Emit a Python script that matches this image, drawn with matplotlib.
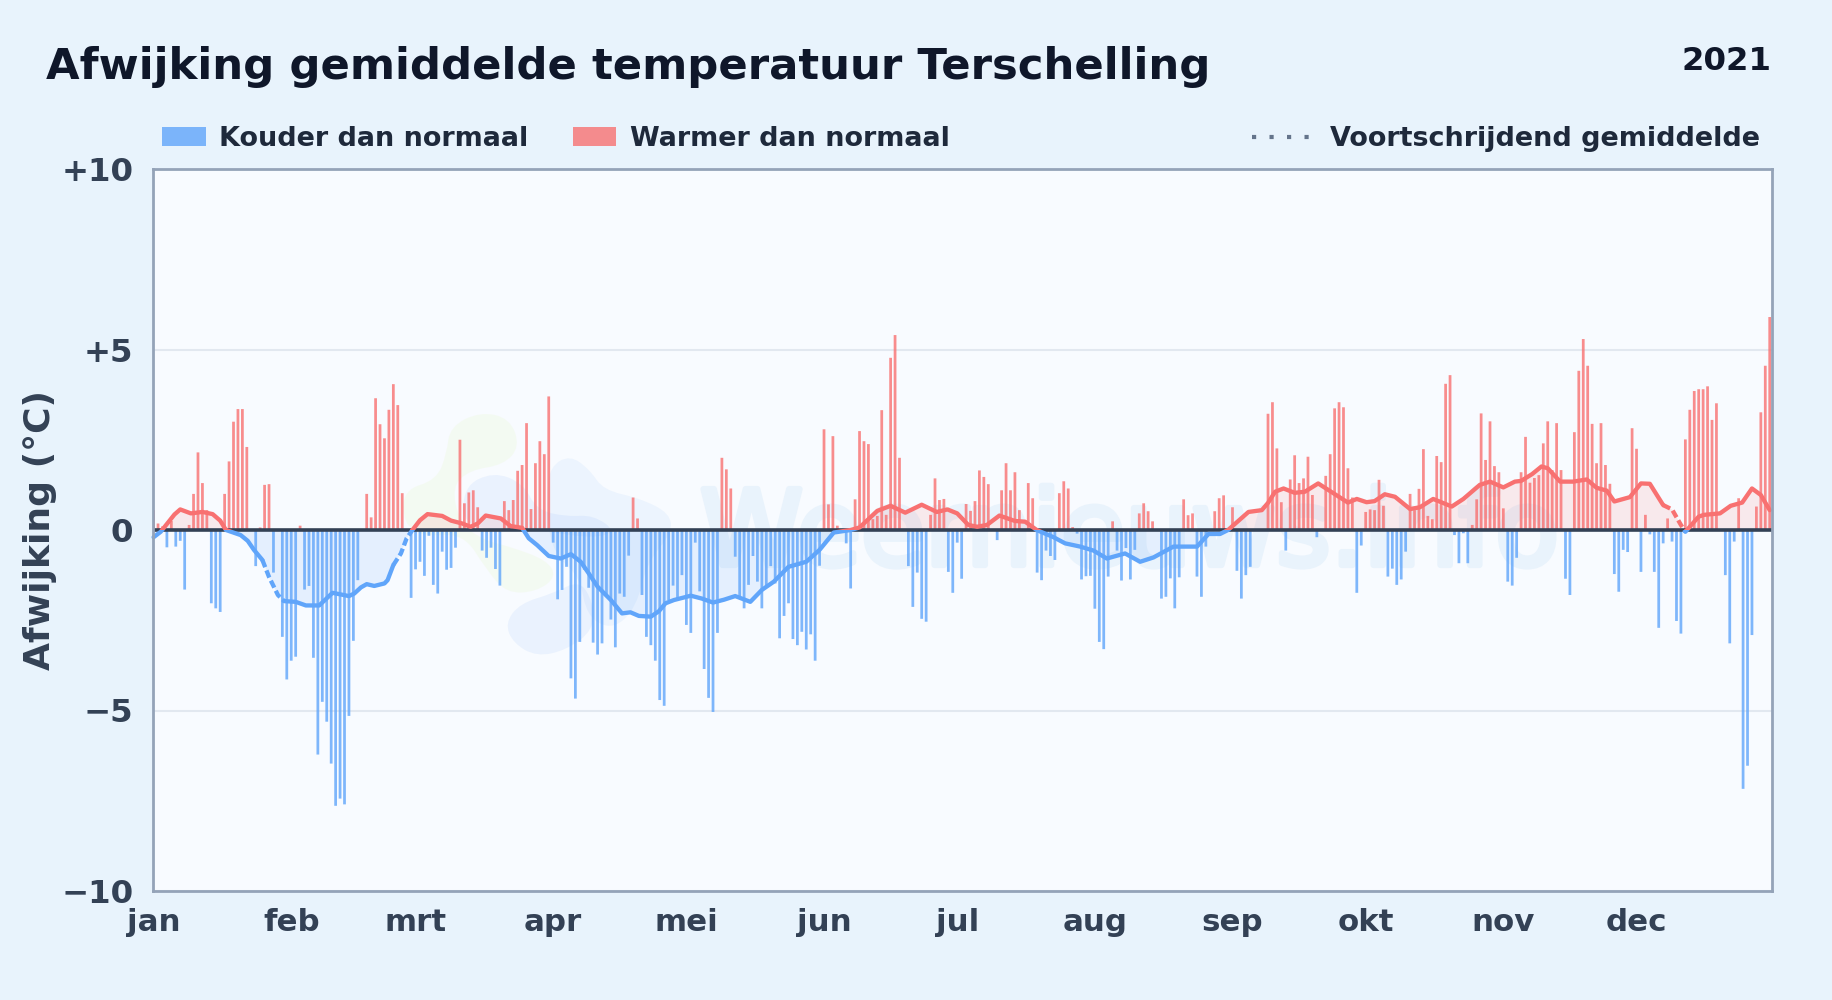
import numpy as np
import matplotlib
matplotlib.use("Agg")
import matplotlib.pyplot as plt
import matplotlib.patheffects as pe
from matplotlib.patches import Rectangle, PathPatch
from matplotlib.path import Path
from matplotlib.lines import Line2D
from matplotlib.transforms import Affine2D

W, H = 1832, 1000
TITLE = "Afwijking gemiddelde temperatuur Terschelling"
YEAR = "2021"
YLABEL = "Afwijking (°C)"
LEGEND_COLD = "Kouder dan normaal"
LEGEND_WARM = "Warmer dan normaal"
LEGEND_AVG = "Voortschrijdend gemiddelde"
WATERMARK = "Weernieuws.info"

month_labels = ["jan", "feb", "mrt", "apr", "mei", "jun", "jul", "aug", "sep", "okt", "nov", "dec"]
month_starts = [0, 31, 59, 90, 120, 151, 181, 212, 243, 273, 304, 334]
y_ticks = [-10, -5, 0, 5, 10]
y_tick_labels = ["\u221210", "\u22125", "0", "+5", "+10"]

anomaly = [
    .55, .18, .1, -.48, .25, -.46, -.3, -1.65, .14, 1.0,
    2.15, 1.3, .55, -2.03, -2.17, -2.27, 1.0, 1.9, 3.0, 3.35,
    3.35, 2.3, 0, -1.0, .07, 1.25, 1.27, -1.18, 0, -2.96,
    -4.14, -3.62, -3.51, .12, -1.65, -1.55, -3.54, -6.22, -4.76, -5.31,
    -6.47, -7.64, -7.44, -7.6, -5.15, -3.07, -1.39, 0, 1.0, .35,
    3.65, 2.93, 2.54, 3.33, 4.04, 3.46, 1.02, 0, -1.88, -1.09,
    -.88, -1.27, -.16, -1.52, -1.76, -.6, -1.1, -1.05, -.49, 2.5,
    .74, 1.04, 1.1, .63, -.57, -.77, -.49, -1.08, -1.54, .8,
    .55, .83, 1.64, 1.8, 2.96, .58, 1.85, 2.46, 2.1, 3.7,
    -.35, -1.92, -1.66, -1.02, -4.11, -4.67, -3.1, -1.1, -1.6, -3.12,
    -3.45, -3.14, -1.85, -2.48, -3.25, -1.76, -1.85, -.71, .9, .32,
    -1.8, -2.96, -3.19, -3.62, -4.71, -4.87, -1.94, -1.54, -1.94, -1.25,
    -2.63, -2.85, -.35, -1.7, -3.85, -4.65, -5.04, -2.85, 2.0, 1.68,
    1.15, -.74, -1.85, -2.17, -1.52, -.72, -1.43, -2.17, -1.57, -1.0,
    -1.48, -3.0, -2.38, -2.03, -3.02, -3.19, -2.82, -3.31, -2.89, -3.62,
    -.99, 2.79, .71, 2.6, .12, 0, -.37, -1.62, .85, 2.74,
    2.46, 2.38, .3, .39, 3.32, .42, 4.77, 5.4, 2.0, 0,
    -1.0, -2.13, -1.18, -2.46, -2.54, .42, 1.43, .83, .86, -1.16,
    -1.74, -.35, -1.35, .72, .53, .8, 1.65, 1.47, 1.27, 0,
    -.28, 1.1, 1.85, 1.1, 1.6, .55, 0, 1.3, .88, -1.18,
    -1.39, -.57, -.72, -.83, 1.02, 1.35, 1.15, .08, -.1, -1.37,
    -1.28, -1.27, -2.18, -3.1, -3.3, -1.29, .24, -.57, -1.4, -.5,
    -1.37, -.55, .46, .74, .52, .24, 0, -1.9, -1.85, -1.34,
    -2.17, -1.31, .85, .41, .46, -1.29, -1.85, -.46, 0, .52,
    .88, .96, 0, .63, -1.13, -1.9, -1.25, -1.02, 0, 0,
    0, 3.22, 3.54, 2.26, .77, -.57, 1.4, 2.07, 1.3, 1.43,
    2.03, .97, -.2, 0, 1.5, 2.1, 3.37, 3.54, 3.4, 1.71,
    .9, -1.74, -.43, .5, .57, .55, 1.39, .67, -1.29, -1.07,
    -1.52, -1.37, -.6, 1.0, .55, 1.14, 2.24, .39, .3, 2.05,
    1.88, 4.05, 4.29, -.14, -.92, -.09, -.92, .14, .85, 3.23,
    1.94, 3.01, 1.77, 1.6, .6, -1.43, -1.54, -.77, 1.6, 2.58,
    1.31, 1.44, 1.52, 2.4, 3.01, 1.66, 2.96, 1.66, -1.35, -1.8,
    2.71, 4.41, 5.29, 4.55, 2.94, 1.85, 2.96, 1.8, 1.28, -1.22,
    -1.71, -.55, -.61, 2.82, 2.25, -1.16, .42, -.12, -1.16, -2.71,
    -.37, .32, -.32, -2.52, -2.87, 2.51, 3.33, 3.85, 3.9, 3.9,
    3.98, 3.05, 3.51, 0, -1.25, -3.14, -.32, .88, -7.17, -6.53,
    -2.91, .65, 3.26, 4.55, 5.9,
]

avg_days = [0, 1.6, 4, 4.7, 6, 8.4, 11, 13.3, 15, 16.3, 19.6, 21.2, 22.6, 24.5, 26, 28, 29.4, 32, 34.3, 37.3, 40.3, 42, 44, 45.2, 46.7, 48,
            49.7, 52, 52.7, 54, 55.7, 57, 58.3, 60, 61.7, 65, 67, 69.5, 71.4, 73, 74.8, 78.2, 80.4, 83, 84.5, 86.4, 89, 91.7, 94, 96.2,
            98, 100, 103, 105.5, 107.4, 109.3, 112, 113.8, 115.3, 117.2, 121, 123.5, 126, 128.5, 131, 134.4, 137, 139.7, 143, 147, 150, 153.2, 157, 159,
            161, 163, 166, 169.3, 173, 176.4, 178.8, 181, 183.5, 185.5, 187.7, 190.5, 194, 196.3, 198.9, 202.7, 205.3, 208.7, 211.7, 214.7, 218.8,
            222.2, 225.2, 229.7, 235, 237.6, 240.2, 242, 246.6, 249.6, 251, 252.6, 254.5, 257, 259.3, 262.3, 265.7, 269, 271, 273.2, 275, 277.3,
            279.6, 283, 285.2, 288.2, 292.4, 295, 298.7, 301, 304, 306.6, 308, 310.5, 312.6, 314, 316.8, 319.7, 322.8, 325, 327.3, 329, 332.5, 335,
            337, 340, 342, 344, 345, 348, 349.2, 352.8, 355.2, 357.8, 360, 362, 364]
avg_vals = [-.2, -.05, .32, .43, .57, .46, .5, .44, .26, 0, -.14, -.3, -.55, -.83, -1.3, -1.8, -1.97, -1.99, -2.09, -2.09, -1.74, -1.78, -1.83, -1.76, -1.59, -1.5,
            -1.55, -1.48, -1.39, -.97, -.65, -.23, 0, .27, .44, .39, .26, .18, .09, .18, .4, .32, .11, .06, -.23, -.42, -.72, -.79, -.67, -.88,
            -1.2, -1.57, -1.94, -2.31, -2.28, -2.38, -2.4, -2.25, -2.03, -1.94, -1.82, -1.9, -2.01, -1.93, -1.83, -1.99, -1.66, -1.43, -1.02, -.88, -.55, -.07, 0, .07,
            .3, .53, .67, .48, .7, .5, .57, .46, .14, .09, .14, .4, .25, .23, 0, -.2, -.37, -.46, -.57, -.79, -.65,
            -.88, -.76, -.46, -.46, -.11, -.11, 0, .5, .55, .75, 1.06, 1.15, 1.03, 1.06, 1.29, 1.02, .76, .86, .77, .8, .99,
            .92, .58, .63, .86, .65, .86, 1.25, 1.34, 1.18, 1.34, 1.36, 1.55, 1.76, 1.71, 1.34, 1.34, 1.4, 1.17, 1.09, .79, .91, 1.29,
            1.28, .69, .57, .14, -.05, .37, .42, .46, .67, .76, 1.15, .97, .55]
dashed_spans = [(24.5, 29.4), (54, 58.3), (340, 345)]

BG = "#E8F3FC"
AX_BG = "#F8FBFF"
BLUE = "#60A5FA"
RED = "#F87171"
SPINE = "#94A3B8"
TICK = "#334155"
LEGEND_TXT = "#1E293B"
TITLE_TXT = "#0F172A"
WM_COLOR = "#E9F3FC"

plt.rcParams["font.family"] = ["DejaVu Sans"]
fig = plt.figure(figsize=(W / 100, H / 100), dpi=100, facecolor=BG)
L, R, T, B = 152.7, 1771.5, 169.0, 891.0
ax = fig.add_axes([L / W, 1 - B / H, (R - L) / W, (B - T) / H], facecolor=AX_BG)


def fx(x):
    return x / W


def fy(y):
    return 1 - y / H


# Faint watermark logo (pixel coordinates of the figure)
to_disp = Affine2D().scale(1, -1).translate(0, H)


def blob(points, color, alpha):
    pts = [(380 + x / 3, 390 + y / 3) for x, y in points]
    n = len(pts)
    mid = [((pts[i][0] + pts[(i + 1) % n][0]) / 2, (pts[i][1] + pts[(i + 1) % n][1]) / 2) for i in range(n)]
    verts, codes = [mid[-1]], [Path.MOVETO]
    for i in range(n):
        verts += [pts[i], mid[i]]
        codes += [Path.CURVE3, Path.CURVE3]
    ax.add_patch(PathPatch(Path(verts, codes), facecolor=color, edgecolor="none", alpha=alpha,
                           transform=to_disp, zorder=0.5))


blob([(210, 110), (300, 65), (390, 85), (420, 170), (370, 225), (270, 240), (215, 290), (240, 400), (310, 450), (390, 470),
      (500, 510), (530, 560), (470, 605), (380, 610), (320, 540), (250, 430), (130, 440), (70, 400), (70, 300), (170, 270), (200, 190)],
     "#D9F99D", 0.13)
blob([(510, 230), (570, 195), (630, 240), (670, 300), (780, 325), (870, 370), (875, 430), (800, 520), (770, 650), (700, 720),
      (620, 680), (600, 560), (530, 500), (505, 420), (500, 320)], "#60A5FA", 0.08)
blob([(250, 290), (340, 245), (430, 280), (470, 360), (560, 380), (640, 375), (710, 425), (640, 445), (500, 425), (420, 415), (250, 415)],
     "#3B82F6", 0.07)
blob([(375, 700), (420, 640), (520, 610), (600, 570), (640, 640), (640, 720), (560, 780), (470, 800), (400, 760)], "#3B82F6", 0.07)

ax.text(fx(700), fy(565), WATERMARK, transform=fig.transFigure, fontsize=75, fontweight="normal", color=WM_COLOR,
        zorder=0.6, path_effects=[pe.withStroke(linewidth=4.5, foreground=WM_COLOR)])

days = np.arange(len(anomaly))
values = np.array(anomaly)
bar_colors = [BLUE if v < 0 else RED for v in values]
ax.bar(days, values, width=0.62, color=bar_colors, alpha=0.8, linewidth=0, zorder=2, snap=False)

ax.set_xlim(-0.2, 364.4)
ax.set_ylim(-10, 10)
ax.yaxis.grid(True, color="#E2E8F0", linewidth=1.5, zorder=1)
ax.xaxis.grid(False)
ax.set_axisbelow(True)

x_avg = np.array(avg_days)
y_avg = np.array(avg_vals)
ax.fill_between(x_avg, y_avg, 0, where=y_avg >= 0, interpolate=True, color=RED, alpha=0.13, linewidth=0, zorder=2.5)
ax.fill_between(x_avg, y_avg, 0, where=y_avg <= 0, interpolate=True, color=BLUE, alpha=0.13, linewidth=0, zorder=2.5)
ax.axhline(0, color=TICK, linewidth=2.6, zorder=3)

in_dash = np.zeros(len(x_avg), dtype=bool)
for a, b in dashed_spans:
    in_dash |= (x_avg >= a) & (x_avg <= b)
ends = [s[0] for s in dashed_spans] + [s[1] for s in dashed_spans]
solid = np.ma.masked_array(y_avg, mask=(in_dash & ~np.isin(x_avg, ends)))

upper = Rectangle((-5, 0), 380, 12, transform=ax.transData)
lower = Rectangle((-5, -12), 380, 12, transform=ax.transData)
for color, clip in ((RED, upper), (BLUE, lower)):
    ln, = ax.plot(x_avg, solid, color=color, linewidth=3.1, solid_capstyle="round", solid_joinstyle="round", zorder=4)
    ln.set_clip_path(clip)
    for a, b in dashed_spans:
        m = (x_avg >= a) & (x_avg <= b)
        dl, = ax.plot(x_avg[m], y_avg[m], color=color, linewidth=3.1, linestyle=(0, (1.8, 0.8)), zorder=4)
        dl.set_clip_path(clip)

ax.set_xticks(month_starts)
ax.set_xticklabels(month_labels, fontsize=22.2, fontweight="bold", color=TICK)
ax.set_yticks(y_ticks)
ax.set_yticklabels(y_tick_labels, fontsize=23.3, fontweight="bold", color=TICK)
ax.tick_params(axis="x", length=0, pad=12)
ax.tick_params(axis="y", length=0, pad=14)
for s in ax.spines.values():
    s.set_color(SPINE)
    s.set_linewidth(2.0)
    s.set_zorder(5)

fig.text(fx(40), fy(530), YLABEL, rotation=90, ha="center", va="center", fontsize=26, fontweight="bold", color=TICK)
fig.text(fx(46), fy(79), TITLE, fontsize=31.2, fontweight="bold", color=TITLE_TXT, ha="left", va="baseline")
fig.text(fx(1771.5), fy(70), YEAR, fontsize=23.3, fontweight="bold", color=TITLE_TXT, ha="right", va="baseline")

fig.add_artist(Rectangle((fx(162), fy(146)), 44 / W, 19 / H, transform=fig.transFigure, facecolor=BLUE, alpha=0.8, edgecolor="none"))
fig.add_artist(Rectangle((fx(573), fy(146)), 43 / W, 19 / H, transform=fig.transFigure, facecolor=RED, alpha=0.8, edgecolor="none"))
fig.add_artist(Line2D([fx(1251.5), fx(1310)], [fy(136.7), fy(136.7)], transform=fig.transFigure, color="#64748B",
                      linewidth=3, linestyle=(0, (1, 3.2)), dash_capstyle="butt"))
fig.text(fx(219), fy(146), LEGEND_COLD, fontsize=19.45, fontweight="bold", color=LEGEND_TXT, va="baseline")
fig.text(fx(630), fy(146), LEGEND_WARM, fontsize=19.45, fontweight="bold", color=LEGEND_TXT, va="baseline")
fig.text(fx(1330), fy(146), LEGEND_AVG, fontsize=19.45, fontweight="bold", color=LEGEND_TXT, va="baseline")

fig.savefig("out.png", dpi=100, facecolor=BG)
